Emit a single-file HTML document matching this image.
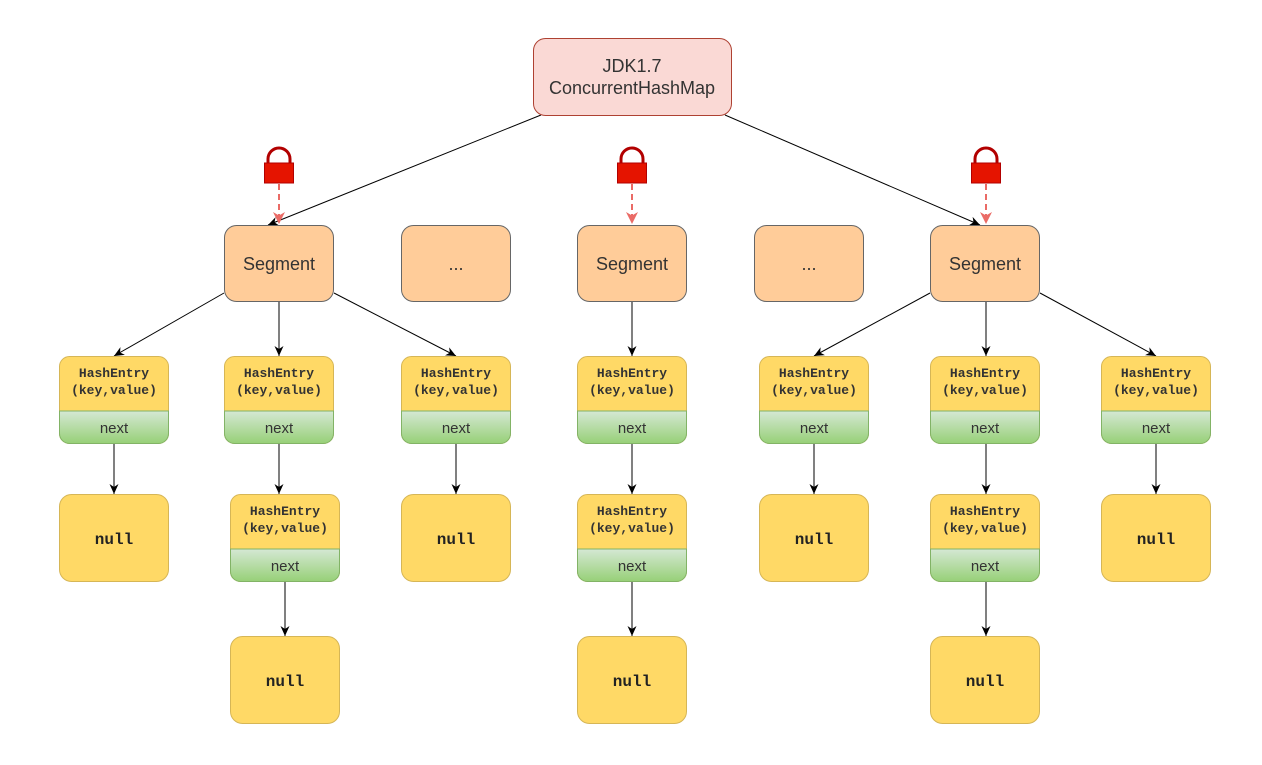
<!DOCTYPE html>
<html><head><meta charset="utf-8"><style>
html,body{margin:0;padding:0;background:#fff;}
svg{display:block;}
.mono{font-family:"Liberation Mono","DejaVu Sans Mono",monospace;font-weight:bold;font-size:13px;fill:#333;}
.nul{font-family:"Liberation Mono","DejaVu Sans Mono",monospace;font-weight:bold;font-size:16px;fill:#222;}
.sans{font-family:"Liberation Sans",Arial,sans-serif;fill:#333;}
</style></head><body>
<svg width="1262" height="765" viewBox="0 0 1262 765" xmlns="http://www.w3.org/2000/svg">
<defs>
<linearGradient id="g" x1="0" y1="0" x2="0" y2="1"><stop offset="0" stop-color="#d5e8d4"/><stop offset="1" stop-color="#97d077"/></linearGradient>
<marker id="a" markerWidth="12" markerHeight="12" refX="10" refY="6" orient="auto" markerUnits="userSpaceOnUse"><path d="M0,1.5 L10,6 L0,10.5 L3,6 z" fill="#000"/></marker>
<marker id="r" markerWidth="14" markerHeight="14" refX="12" refY="7" orient="auto" markerUnits="userSpaceOnUse"><path d="M0,1 L12,7 L0,13 L3.5,7 z" fill="#ea6b66"/></marker>
<g id="entry">
<rect x="0.5" y="0.5" width="109" height="87" rx="10" fill="#ffd966" stroke="#d6b656"/>
<path d="M0.5,55 h109 v22.5 a10 10 0 0 1 -10 10 h-89 a10 10 0 0 1 -10 -10 z" fill="url(#g)" stroke="#82b366"/>
<text x="55" y="21" text-anchor="middle" class="mono">HashEntry</text>
<text x="55" y="38" text-anchor="middle" class="mono">(key,value)</text>
<text x="55" y="77" text-anchor="middle" class="sans" font-size="15">next</text>
</g>
<g id="null">
<rect x="0.5" y="0.5" width="109" height="87" rx="12" fill="#ffd966" stroke="#d6b656"/>
<text x="55" y="50" text-anchor="middle" class="nul">null</text>
</g>
<g id="lock">
<path d="M-11,16 v-5 a11 11 0 0 1 22 0 v5" fill="none" stroke="#b20000" stroke-width="3"/>
<rect x="-14.5" y="15" width="29" height="20" fill="#e51400" stroke="#b20000"/>
</g>
</defs>

<g stroke="#000" stroke-width="1" fill="none">
<line x1="541" y1="115" x2="268" y2="225" marker-end="url(#a)"/>
<line x1="725" y1="115" x2="980" y2="225" marker-end="url(#a)"/>
<line x1="224" y1="293" x2="114" y2="356" marker-end="url(#a)"/>
<line x1="279" y1="301" x2="279" y2="356" marker-end="url(#a)"/>
<line x1="334" y1="293" x2="456" y2="356" marker-end="url(#a)"/>
<line x1="632" y1="301" x2="632" y2="356" marker-end="url(#a)"/>
<line x1="930" y1="293" x2="814" y2="356" marker-end="url(#a)"/>
<line x1="986" y1="301" x2="986" y2="356" marker-end="url(#a)"/>
<line x1="1040" y1="293" x2="1156" y2="356" marker-end="url(#a)"/>
<line x1="114" y1="444" x2="114" y2="494" marker-end="url(#a)"/>
<line x1="279" y1="444" x2="279" y2="494" marker-end="url(#a)"/>
<line x1="456" y1="444" x2="456" y2="494" marker-end="url(#a)"/>
<line x1="632" y1="444" x2="632" y2="494" marker-end="url(#a)"/>
<line x1="814" y1="444" x2="814" y2="494" marker-end="url(#a)"/>
<line x1="986" y1="444" x2="986" y2="494" marker-end="url(#a)"/>
<line x1="1156" y1="444" x2="1156" y2="494" marker-end="url(#a)"/>
<line x1="285" y1="582" x2="285" y2="636" marker-end="url(#a)"/>
<line x1="632" y1="582" x2="632" y2="636" marker-end="url(#a)"/>
<line x1="986" y1="582" x2="986" y2="636" marker-end="url(#a)"/>
</g>

<g stroke="#ea6b66" stroke-width="2" stroke-dasharray="6,4">
<line x1="279" y1="184" x2="279" y2="224" marker-end="url(#r)"/>
<line x1="632" y1="184" x2="632" y2="224" marker-end="url(#r)"/>
<line x1="986" y1="184" x2="986" y2="224" marker-end="url(#r)"/>
</g>
<use href="#lock" x="279" y="148"/>
<use href="#lock" x="632" y="148"/>
<use href="#lock" x="986" y="148"/>

<rect x="533.5" y="38.5" width="198" height="77" rx="12" fill="#fad9d5" stroke="#ae4132"/>
<text x="632" y="72" text-anchor="middle" class="sans" font-size="18">JDK1.7</text>
<text x="632" y="94" text-anchor="middle" class="sans" font-size="18">ConcurrentHashMap</text>

<g fill="#ffcc99" stroke="#666">
<rect x="224.5" y="225.5" width="109" height="76" rx="12"/>
<rect x="401.5" y="225.5" width="109" height="76" rx="12"/>
<rect x="577.5" y="225.5" width="109" height="76" rx="12"/>
<rect x="754.5" y="225.5" width="109" height="76" rx="12"/>
<rect x="930.5" y="225.5" width="109" height="76" rx="12"/>
</g>
<g class="sans" font-size="18" text-anchor="middle">
<text x="279" y="270">Segment</text>
<text x="456" y="270">...</text>
<text x="632" y="270">Segment</text>
<text x="809" y="270">...</text>
<text x="985" y="270">Segment</text>
</g>

<use href="#entry" x="59" y="356"/>
<use href="#entry" x="224" y="356"/>
<use href="#entry" x="401" y="356"/>
<use href="#entry" x="577" y="356"/>
<use href="#entry" x="759" y="356"/>
<use href="#entry" x="930" y="356"/>
<use href="#entry" x="1101" y="356"/>
<use href="#entry" x="230" y="494"/>
<use href="#entry" x="577" y="494"/>
<use href="#entry" x="930" y="494"/>

<use href="#null" x="59" y="494"/>
<use href="#null" x="401" y="494"/>
<use href="#null" x="759" y="494"/>
<use href="#null" x="1101" y="494"/>
<use href="#null" x="230" y="636"/>
<use href="#null" x="577" y="636"/>
<use href="#null" x="930" y="636"/>
</svg>
</body></html>
